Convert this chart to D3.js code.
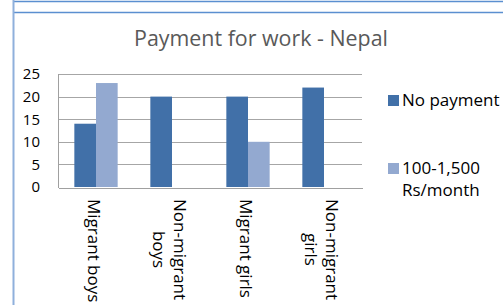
<!DOCTYPE html>
<html lang="en">
	<head>
		<meta charset="utf-8">
		<title>Payment for work - Nepal</title>
		<script type="text/javascript" src="https://cdn.jsdelivr.net/npm/d3@7"></script>
		<style type="text/css">
			body { margin: 0; background: #fff; }
			svg text { font-family: "Open Sans", sans-serif; }
			.axis path, .axis line { stroke: #a0a0a0; shape-rendering: crispEdges; }
			.axis text { font-size: 15px; fill: #000; }
			.grid line { stroke: #a6a6a6; shape-rendering: crispEdges; }
		</style>
	</head>
	<body>
		<script type="text/javascript">

			// data
			var categories = ["Migrant boys", "Non-migrant boys", "Migrant girls", "Non-migrant girls"];
			var labelLines = [["Migrant boys"], ["Non-migrant", "boys"], ["Migrant girls"], ["Non-migrant", "girls"]];
			var series = ["No payment", "100-1,500 Rs/month"];
			var legendLines = [["No payment"], ["100-1,500", "Rs/month"]];
			var noPayment = [14, 20, 20, 22];
			var paid = [23, 0, 10, 0];
			var yTicks = [0, 5, 10, 15, 20, 25];
			var colors = ["#4170a8", "#93a9d0"];

			var W = 503, H = 305;
			var plot = {left: 58, right: 362, top: 74, bottom: 187};

			var svg = d3.select("body").append("svg")
				.attr("width", W)
				.attr("height", H);

			// frames
			svg.append("line").attr("x1", 13).attr("x2", W).attr("y1", 1.5).attr("y2", 1.5)
				.attr("stroke", "#5b8fd0").attr("stroke-width", 1.5);
			svg.append("line").attr("x1", 13).attr("x2", W).attr("y1", 12.5).attr("y2", 12.5)
				.attr("stroke", "#5b8fd0").attr("stroke-width", 1.5);
			svg.append("line").attr("x1", 13.5).attr("x2", 13.5).attr("y1", 0).attr("y2", H)
				.attr("stroke", "#8fb0dc").attr("stroke-width", 2);

			svg.append("text")
				.attr("x", 261).attr("y", 46)
				.attr("text-anchor", "middle")
				.attr("font-size", "21.4px")
				.attr("fill", "#595959")
				.text("Payment for work - Nepal");

			var x0 = d3.scaleBand()
				.domain(categories)
				.range([plot.left, plot.right])
				.paddingInner(0.43)
				.paddingOuter(0.215);

			var x1 = d3.scaleBand()
				.domain(series)
				.range([0, x0.bandwidth()]);

			var y = d3.scaleLinear()
				.domain([0, 25])
				.range([plot.bottom, plot.top]);

			// gridlines
			svg.append("g").attr("class", "grid")
				.selectAll("line")
				.data(yTicks.slice(1))
				.enter().append("line")
				.attr("x1", plot.left).attr("x2", plot.right)
				.attr("y1", function(d) { return Math.round(y(d)) + 0.5; })
				.attr("y2", function(d) { return Math.round(y(d)) + 0.5; });

			var rows = categories.map(function(c, i) {
				return {cat: c, values: [noPayment[i], paid[i]]};
			});

			var groups = svg.selectAll(".cat")
				.data(rows)
				.enter().append("g")
				.attr("class", "cat")
				.attr("transform", function(d) { return "translate(" + x0(d.cat) + ",0)"; });

			groups.selectAll("rect")
				.data(function(d) { return d.values.map(function(v, j) { return {s: series[j], v: v, j: j}; }); })
				.enter().append("rect")
				.attr("x", function(d) { return x1(d.s); })
				.attr("width", x1.bandwidth())
				.attr("y", function(d) { return y(d.v); })
				.attr("height", function(d) { return y(0) - y(d.v); })
				.attr("fill", function(d) { return colors[d.j]; });

			// axes
			var yAxis = d3.axisLeft(y).tickValues(yTicks).tickSize(0).tickPadding(18);
			svg.append("g").attr("class", "axis")
				.attr("transform", "translate(" + plot.left + ",0)")
				.call(yAxis)
				.call(function(g) { g.select(".domain").attr("d", "M0.5," + plot.top + "V" + (plot.bottom + 0.5)); })
				.selectAll("text").attr("text-anchor", "end").attr("dx", 0);

			var xAxis = d3.axisBottom(x0).tickSize(0).tickFormat("");
			svg.append("g").attr("class", "axis")
				.attr("transform", "translate(0," + (plot.bottom + 0.5) + ")")
				.call(xAxis);

			// rotated category labels
			var lineH = 21;
			var labels = svg.append("g").selectAll("g")
				.data(categories)
				.enter().append("g")
				.attr("transform", function(d) {
					return "translate(" + (x0(d) + x0.bandwidth() / 2 - 2) + ",199) rotate(90)";
				});
			labels.each(function(d, i) {
				var lines = labelLines[i];
				var g = d3.select(this);
				var ts = lines.map(function(l, k) {
					return g.append("text")
						.attr("font-size", "17px")
						.attr("fill", "#000")
						.attr("dominant-baseline", "central")
						.attr("y", (k - (lines.length - 1) / 2) * lineH)
						.text(l);
				});
				var maxW = d3.max(ts, function(t) { return t.node().getComputedTextLength(); });
				ts.forEach(function(t) {
					t.attr("x", (maxW - t.node().getComputedTextLength()) / 2);
				});
			});

			// legend
			var legendY = [95, 163];
			var legend = svg.append("g").selectAll("g")
				.data(series)
				.enter().append("g")
				.attr("transform", function(d, i) { return "translate(388," + legendY[i] + ")"; });
			legend.append("rect")
				.attr("width", 11).attr("height", 11)
				.attr("fill", function(d, i) { return colors[i]; });
			legend.each(function(d, i) {
				var g = d3.select(this);
				legendLines[i].forEach(function(l, k) {
					g.append("text")
						.attr("x", 14)
						.attr("y", 10.5 + k * 22)
						.attr("font-size", "17px")
						.attr("fill", "#000")
						.text(l);
				});
			});
		</script>
	</body>
</html>
